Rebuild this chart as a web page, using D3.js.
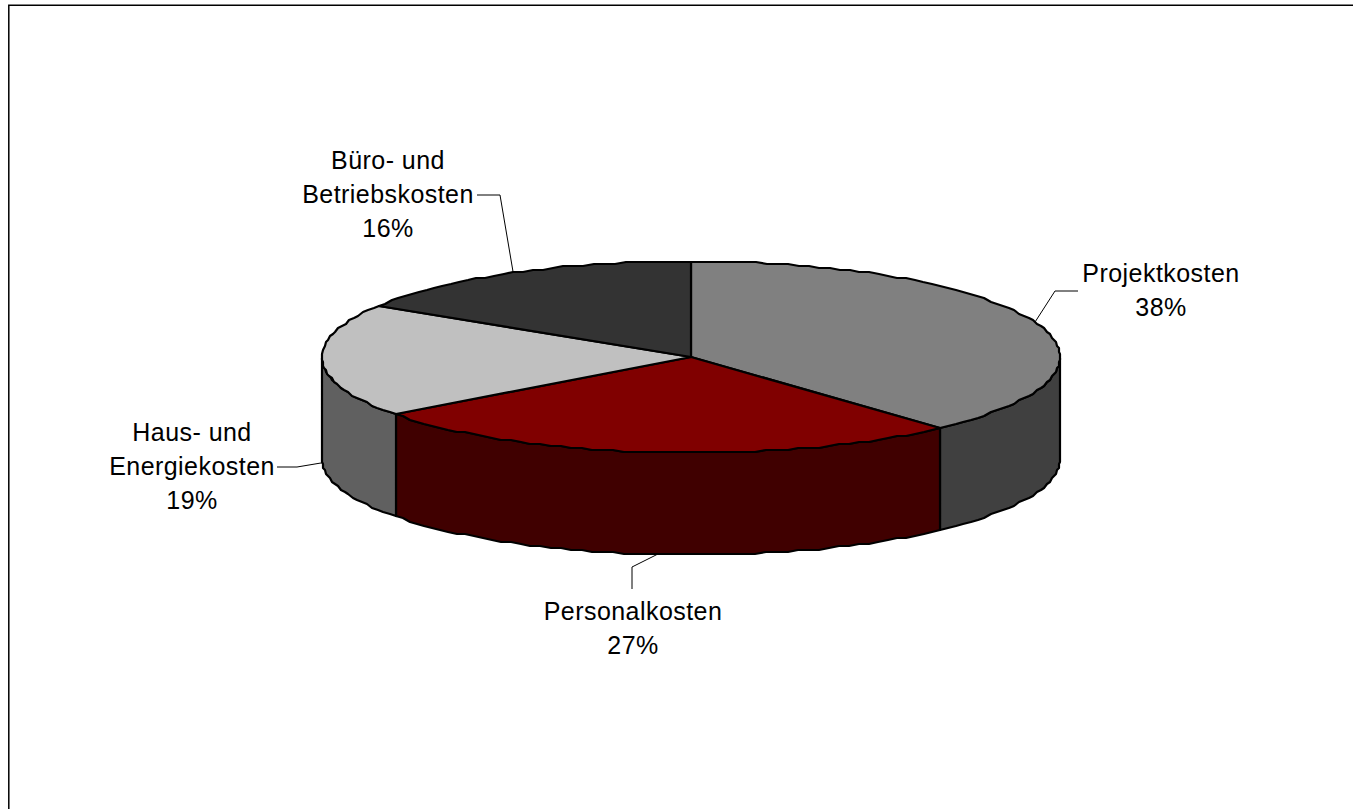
<!DOCTYPE html>
<html>
<head>
<meta charset="utf-8">
<script src="https://cdn.jsdelivr.net/npm/d3@7"></script>
<style>
html, body { margin: 0; padding: 0; background: #fff; overflow: hidden; }
text { font-family: "Liberation Sans", Arial, sans-serif; font-size: 25px; letter-spacing: 0.45px; fill: #000; }
</style>
</head>
<body>
<div id="chart"></div>
<script>
var categories = ["Projektkosten", "Personalkosten", "Haus- und Energiekosten", "Büro- und Betriebskosten"];
var shares = [38.2, 26.55, 19.25, 16];
var labelLines = [["Projektkosten"], ["Personalkosten"], ["Haus- und", "Energiekosten"], ["Büro- und", "Betriebskosten"]];
var topColors = ["#808080", "#800000", "#c0c0c0", "#333333"];
var sideColors = ["#404040", "#400000", "#606060", "#1a1a1a"];

var width = 1353, height = 809;
var cx = 691, cy = 357, rx = 369, ry = 96, depth = 102;
var τ = 2 * Math.PI;

// label block centre x, first baseline, and the elbow of the leader line
var labelSpots = [
	{ x: 1161, y: 282, elbow: [[1055, 291], [1078, 291]] },
	{ x: 633, y: 620, elbow: [[632, 567], [632, 589]] },
	{ x: 192, y: 441, elbow: [[297, 467], [277, 467]] },
	{ x: 388, y: 169, elbow: [[500, 195], [477, 195]] }
];

var svg = d3.select("#chart").append("svg")
	.attr("width", width)
	.attr("height", height);

// chart frame, only top and left show in the picture
svg.append("path")
	.attr("d", "M8.8," + height + "V5.2H" + width)
	.attr("fill", "none")
	.attr("stroke", "#000")
	.attr("stroke-width", 1.5);

var slices = d3.pie().sort(null).value(function(d) { return d; })(shares);

function ellipsePoint(a, drop) {
	return [cx + rx * Math.sin(a), cy - ry * Math.cos(a) + (drop || 0)];
}

// the original rim is stepped, so snap the outline to a 2px grid in y
function arcPoints(a0, a1, drop) {
	var n = Math.max(2, Math.ceil((a1 - a0) / 0.03));
	return d3.range(n + 1).map(function(i) {
		var p = ellipsePoint(a0 + (a1 - a0) * i / n, drop);
		return [Math.round(p[0]), Math.round(p[1] / 2) * 2];
	});
}

var line = d3.line();

// side walls, only the front half of the rim
var sideGroup = svg.append("g");
slices.forEach(function(d, i) {
	var a0 = Math.max(d.startAngle, τ / 4), a1 = Math.min(d.endAngle, τ * 3 / 4);
	if (a1 <= a0) return;
	var pts = arcPoints(a0, a1, 0).concat(arcPoints(a0, a1, depth).reverse());
	sideGroup.append("path")
		.attr("d", line(pts) + "Z")
		.attr("fill", sideColors[i])
		.attr("stroke", "#000")
		.attr("stroke-width", 2.2)
		.attr("stroke-linejoin", "round");
});

// top face
var topGroup = svg.append("g");
slices.forEach(function(d, i) {
	var pts = [[cx, cy]].concat(arcPoints(d.startAngle, d.endAngle, 0));
	topGroup.append("path")
		.attr("d", line(pts) + "Z")
		.attr("fill", topColors[i])
		.attr("stroke", "#000")
		.attr("stroke-width", 2.2)
		.attr("stroke-linejoin", "round");
});

// leader lines and labels
var labelGroup = svg.append("g");
slices.forEach(function(d, i) {
	var mid = (d.startAngle + d.endAngle) / 2;
	var onFront = mid > τ / 4 && mid < τ * 3 / 4;
	var start = ellipsePoint(mid, onFront ? depth : 0);
	labelGroup.append("path")
		.attr("d", line([start].concat(labelSpots[i].elbow)))
		.attr("fill", "none")
		.attr("stroke", "#000")
		.attr("stroke-width", 1);

	var rows = labelLines[i].concat([d3.format(".0f")(d.data) + "%"]);
	labelGroup.append("text")
		.attr("text-anchor", "middle")
		.selectAll("tspan")
		.data(rows)
		.join("tspan")
		.attr("x", labelSpots[i].x)
		.attr("y", function(r, k) { return labelSpots[i].y + k * 34; })
		.text(function(r) { return r; });
});
</script>
</body>
</html>
